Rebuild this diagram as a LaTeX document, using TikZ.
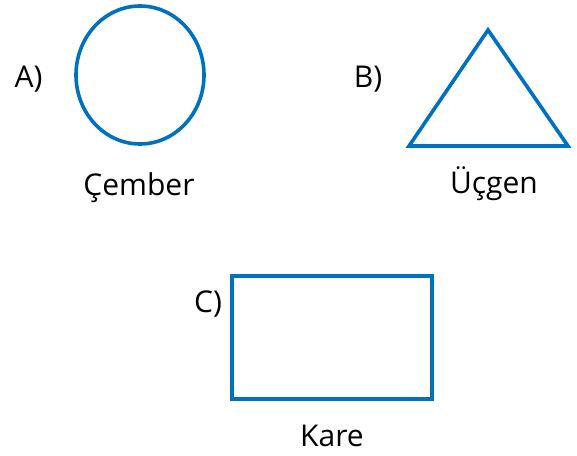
\documentclass[tikz,border=0pt]{standalone}
\usepackage{fontspec}
\setmainfont{Open Sans}
\definecolor{shapeblue}{HTML}{0070C0}
\tikzset{
  shapeline/.style={draw=shapeblue, line width=3.6pt, line join=miter},
  lbl/.style={anchor=base, inner sep=0pt, font=\fontsize{30}{34}\selectfont}
}
\begin{document}
\begin{tikzpicture}[x=1pt,y=-1pt]
\useasboundingbox (0,0) rectangle (577,455);
% circle
\draw[shapeline] (140,75) ellipse [x radius=64, y radius=69];
% triangle
\draw[shapeline] (488,30) -- (568,146) -- (409,146) -- cycle;
% rectangle
\draw[shapeline] (232,276) rectangle (432,399);
% labels
\node[lbl] (la) at (28.5,87) {A)};
\node[lbl] (lb) at (368,87) {B)};
\node[lbl] (lc) at (208,312) {C)};
\node[lbl] (cember) at (139,195) {Çember};
\node[lbl] (ucgen) at (494,193) {Üçgen};
\node[lbl] (kare) at (332,446) {Kare};
\end{tikzpicture}
\end{document}
